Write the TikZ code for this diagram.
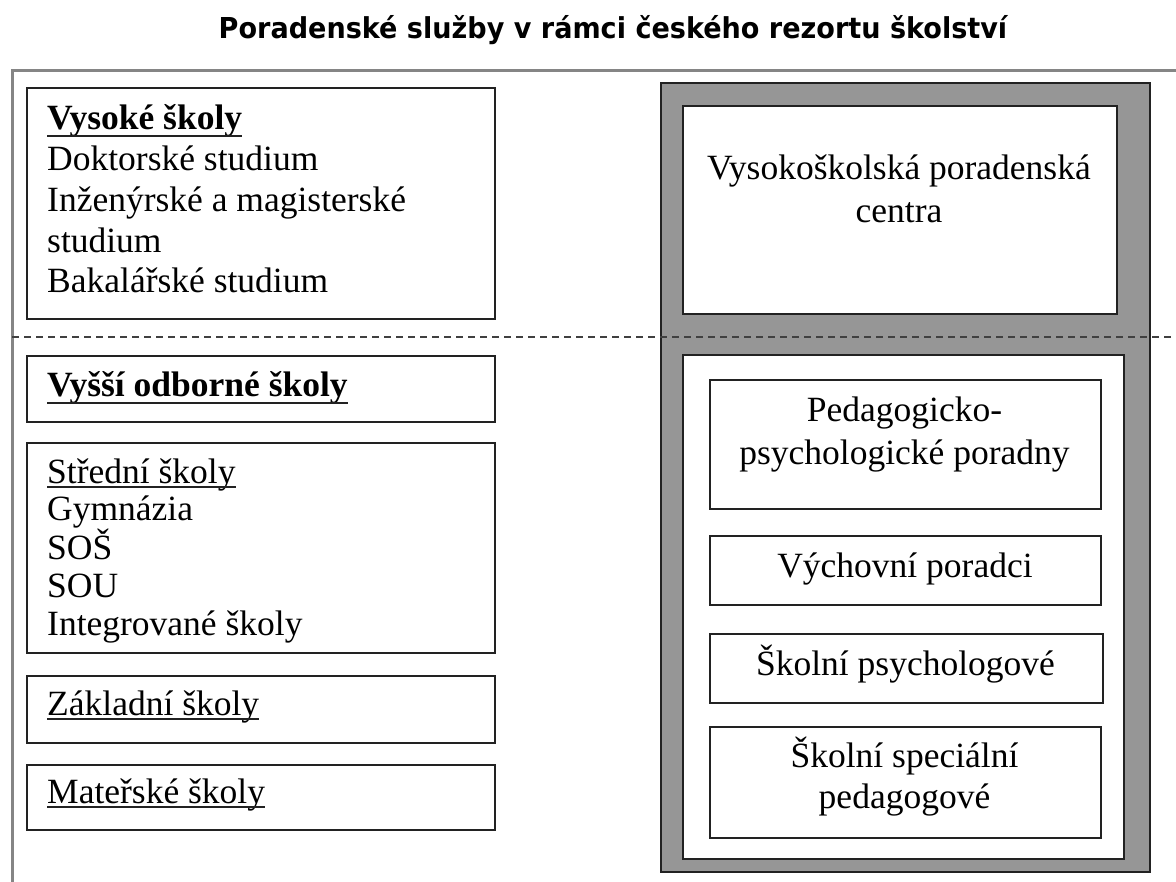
\documentclass[tikz,border=0pt]{standalone}
\usepackage{fontspec}
\setmainfont{Liberation Serif}
\newfontfamily\ttlfont{DejaVu Sans}
\definecolor{boxline}{HTML}{222222}
\definecolor{panelgray}{HTML}{969696}
\definecolor{framegray}{HTML}{858585}
\newcommand\bodyfnt{\fontsize{35.5}{41}\selectfont}
\tikzset{
  boxnode/.style={draw=boxline, line width=1.8pt, fill=white, anchor=north west, inner sep=0pt},
  lefttxt/.style={inner sep=0pt, anchor=base west, font=\bodyfnt},
  ctrtxt/.style={inner sep=0pt, anchor=base, font=\bodyfnt},
  ulthick/.style={line width=2.6pt, boxline},
  ulthin/.style={line width=1.6pt, boxline},
  sep/.style={dashed, dash pattern=on 7pt off 5pt, line width=1.6pt, draw=black!75},
}
\begin{document}
\begin{tikzpicture}[x=1pt,y=-1pt]
\useasboundingbox (0,0) rectangle (1176,882);
% title
\node[inner sep=0pt, anchor=base] (title) at (613,39)
  {\scalebox{0.94}[1]{\ttlfont\bfseries\fontsize{28.8}{32}\selectfont Poradenské služby v rámci českého rezortu školství}};
% outer frame (cropped)
\coordinate (fbl) at (12,885);
\coordinate (ftl) at (12,71);
\coordinate (ftr) at (1180,71);
\draw[framegray, line width=3pt] (fbl) -- (ftl) -- (ftr);
% right panel
\node[draw=boxline, line width=1.8pt, fill=panelgray, anchor=north west, inner sep=0pt,
      minimum width=489pt, minimum height=789pt] (panel) at (660,82) {};
\node[boxnode, minimum width=434pt, minimum height=208pt] (vpc) at (682,105) {};
\node[boxnode, minimum width=441pt, minimum height=504pt] (ssb) at (682,354) {};
\node[boxnode, minimum width=391pt, minimum height=129pt] (ppp) at (709,379) {};
\node[boxnode, minimum width=391pt, minimum height=69pt] (vp) at (709,535) {};
\node[boxnode, minimum width=393pt, minimum height=69pt] (sp) at (709,633) {};
\node[boxnode, minimum width=391pt, minimum height=111pt] (ssp) at (709,726) {};
% left boxes
\node[boxnode, minimum width=468pt, minimum height=231pt] (vs) at (26,87) {};
\node[boxnode, minimum width=468pt, minimum height=66pt] (vos) at (26,355) {};
\node[boxnode, minimum width=468pt, minimum height=210pt] (ss) at (26,442) {};
\node[boxnode, minimum width=468pt, minimum height=67pt] (zs) at (26,675) {};
\node[boxnode, minimum width=468pt, minimum height=65pt] (ms) at (26,764) {};
% dashed separator
\coordinate (sepl) at (12,337);
\coordinate (sepr) at (1176,337);
\draw[sep] (sepl) -- (sepr);
% left texts
\node[lefttxt] (vs1) at (47,130) {\bfseries Vysoké školy};
\node[lefttxt] (vs2) at (47,170.75) {Doktorské studium};
\node[lefttxt] (vs3) at (47,211.5) {Inženýrské a magisterské};
\node[lefttxt] (vs4) at (47,252.25) {studium};
\node[lefttxt] (vs5) at (47,293) {Bakalářské studium};
\node[lefttxt] (vos1) at (47,397) {\bfseries Vyšší odborné školy};
\node[lefttxt] (ss1) at (47,483) {Střední školy};
\node[lefttxt] (ss2) at (47,521) {Gymnázia};
\node[lefttxt] (ss3) at (47,559) {SOŠ};
\node[lefttxt] (ss4) at (47,597) {SOU};
\node[lefttxt] (ss5) at (47,635) {Integrované školy};
\node[lefttxt] (zs1) at (47,715) {Základní školy};
\node[lefttxt] (ms1) at (47,803) {Mateřské školy};
% underlines
\draw[ulthick] ([yshift=-6pt]vs1.base west) -- ([yshift=-6pt]vs1.base east);
\draw[ulthick] ([yshift=-6pt]vos1.base west) -- ([yshift=-6pt]vos1.base east);
\draw[ulthin] ([yshift=-4pt]ss1.base west) -- ([yshift=-4pt]ss1.base east);
\draw[ulthin] ([yshift=-4pt]zs1.base west) -- ([yshift=-4pt]zs1.base east);
\draw[ulthin] ([yshift=-4pt]ms1.base west) -- ([yshift=-4pt]ms1.base east);
% right texts
\node[ctrtxt] (vpc1) at (899,180) {Vysokoškolská poradenská};
\node[ctrtxt] (vpc2) at (899,223) {centra};
\node[ctrtxt] (ppp1) at (904.5,422) {Pedagogicko-};
\node[ctrtxt] (ppp2) at (904.5,465) {psychologické poradny};
\node[ctrtxt] (vp1) at (905,577) {Výchovní poradci};
\node[ctrtxt] (sp1) at (905.5,675) {Školní psychologové};
\node[ctrtxt] (ssp1) at (904.5,767) {Školní speciální};
\node[ctrtxt] (ssp2) at (904.5,808) {pedagogové};
\end{tikzpicture}
\end{document}
